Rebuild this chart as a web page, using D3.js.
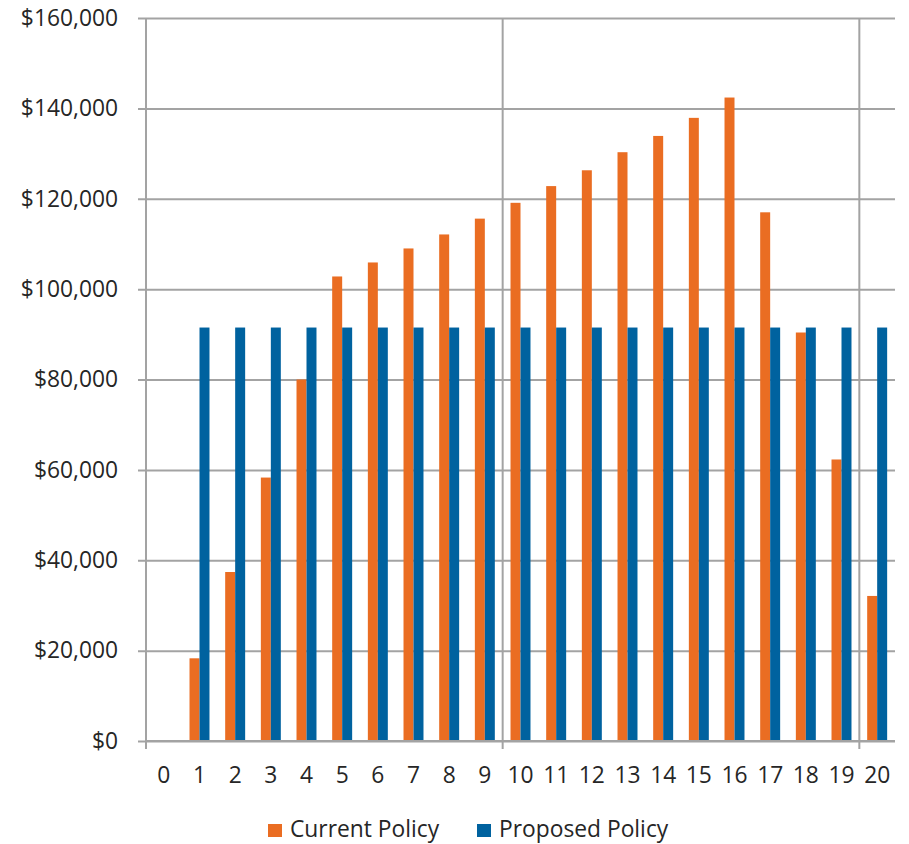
<!DOCTYPE html>
<html>
<head>
<meta charset="utf-8">
<script src="https://cdn.jsdelivr.net/npm/d3@7/dist/d3.min.js"></script>
<style>
  html, body { margin: 0; padding: 0; background: #fff; }
  svg text { font-family: "Open Sans", sans-serif; fill: #262626; }
</style>
</head>
<body>
<svg id="chart" width="909" height="844"></svg>
<script>
// Categories (years 0..20)
const years = d3.range(0, 21).map(String);
// Series values
const currentPolicy = [0, 18300, 37400, 58300, 80000, 102800, 105900, 109000, 112100, 115600,
  119100, 122800, 126300, 130300, 133900, 137900, 142400, 117000, 90400, 62300, 32100];
const proposedPolicy = [0, 91500, 91500, 91500, 91500, 91500, 91500, 91500, 91500, 91500,
  91500, 91500, 91500, 91500, 91500, 91500, 91500, 91500, 91500, 91500, 91500];
const seriesNames = ["Current Policy", "Proposed Policy"];
const seriesColors = ["#EA6D22", "#00629F"];
const yTicks = [0, 20000, 40000, 60000, 80000, 100000, 120000, 140000, 160000];
const xMajorTicks = ["0", "10", "20"];

const svg = d3.select("#chart");
const plotLeft = 146, plotRight = 895, plotTop = 18, plotBottom = 741;
const gridColor = "#a3a3a3";
const fontSize = 22.8;

const x0 = d3.scaleBand().domain(years).range([plotLeft, plotRight]).padding(0);
const groupW = x0.bandwidth() * 0.56;
const x1 = d3.scaleBand().domain(seriesNames).range([0, groupW]).padding(0);
const y = d3.scaleLinear().domain([0, 160000]).range([plotBottom, plotTop]);

const fmt = v => "$" + d3.format(",")(v);

// Horizontal gridlines with short outside ticks
const yAxis = d3.axisLeft(y).tickValues(yTicks).tickFormat(fmt)
  .tickSize(-(plotRight - plotLeft)).tickPadding(20).tickSizeOuter(0);
const gy = svg.append("g").attr("transform", `translate(${plotLeft},0)`).call(yAxis);
gy.select(".domain").remove();
gy.selectAll(".tick line").attr("stroke", gridColor).attr("stroke-width", 2)
  .attr("x1", -8);
gy.selectAll(".tick text").attr("font-size", fontSize).attr("fill", "#262626")
  .attr("x", -28).attr("font-family", "Open Sans, sans-serif");

// Vertical gridlines at every tenth category boundary
svg.append("g").selectAll("line").data(xMajorTicks).join("line")
  .attr("x1", d => x0(d)).attr("x2", d => x0(d))
  .attr("y1", plotTop).attr("y2", plotBottom + 8)
  .attr("stroke", gridColor).attr("stroke-width", 2);

// Bars
const rows = years.map((yr, i) => ({ yr, vals: [currentPolicy[i], proposedPolicy[i]] }));
const groups = svg.append("g").selectAll("g").data(rows).join("g")
  .attr("transform", d => `translate(${x0(d.yr) + (x0.bandwidth() - groupW) / 2},0)`);
groups.selectAll("rect")
  .data(d => d.vals.map((v, k) => ({ name: seriesNames[k], v, k })))
  .join("rect")
  .attr("x", d => x1(d.name))
  .attr("width", x1.bandwidth())
  .attr("y", d => y(d.v))
  .attr("height", d => y(0) - y(d.v))
  .attr("fill", d => seriesColors[d.k]);

// Category axis
svg.append("line").attr("x1", plotLeft).attr("x2", plotRight)
  .attr("y1", plotBottom).attr("y2", plotBottom)
  .attr("stroke", gridColor).attr("stroke-width", 2);
svg.append("g").selectAll("text").data(years).join("text")
  .attr("x", d => x0(d) + x0.bandwidth() / 2)
  .attr("y", 783)
  .attr("text-anchor", "middle")
  .attr("font-size", fontSize)
  .text(d => d);

// Legend
const legendX = [268, 477];
const lg = svg.append("g").selectAll("g").data(seriesNames).join("g")
  .attr("transform", (d, i) => `translate(${legendX[i]},0)`);
lg.append("rect").attr("x", 0).attr("y", 824).attr("width", 14).attr("height", 13)
  .attr("fill", (d, i) => seriesColors[i]);
lg.append("text").attr("x", 22).attr("y", 837).attr("font-size", fontSize).text(d => d);
</script>
</body>
</html>
